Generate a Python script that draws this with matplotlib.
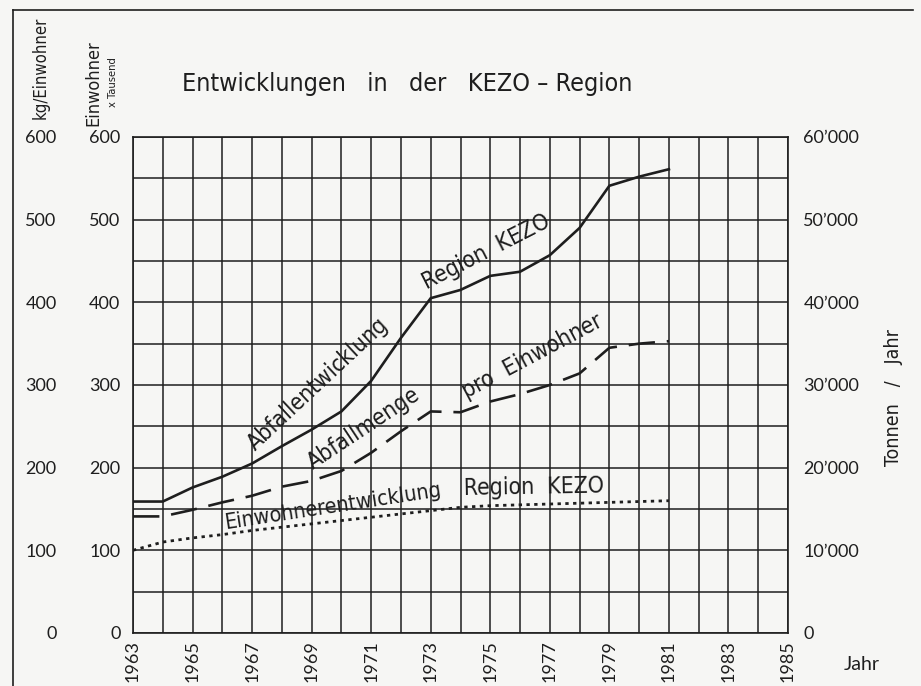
import matplotlib
matplotlib.use("Agg")
import matplotlib.pyplot as plt
from matplotlib.lines import Line2D

# Werte
years = list(range(1963, 1982))
abfall_tonnen = [15900, 15900, 17600, 18900, 20500, 22600, 24600, 26800, 30500,
                 35700, 40500, 41500, 43200, 43700, 45700, 49000, 54100, 55200, 56100]
abfall_kg_pro_einwohner = [141, 141, 149, 158, 166, 177, 184, 196, 218, 244,
                           268, 267, 280, 289, 300, 314, 345, 350, 353]
einwohner_tausend = [100, 110, 115, 119, 124, 128, 132, 136, 140, 144,
                     148, 152, 154, 155, 156, 157, 158, 159, 160]

left_ticks = [0, 100, 200, 300, 400, 500, 600]
right_ticks = [0, 10000, 20000, 30000, 40000, 50000, 60000]
right_labels = ["0", "10\u2019000", "20\u2019000", "30\u2019000", "40\u2019000", "50\u2019000", "60\u2019000"]
year_ticks = list(range(1963, 1986, 2))

bg = "#f6f6f4"
ink = "#1e1e1e"
num_font = "Lato"
txt = dict(family="DejaVu Sans", stretch="condensed")

fig = plt.figure(figsize=(9.21, 6.86), dpi=100, facecolor=bg)
ax = fig.add_axes([0.1444, 0.0773, 0.7112, 0.723])
ax.set_facecolor(bg)

# Gitter: jedes Jahr, alle 50 Einheiten
ax.set_xlim(1963, 1985)
ax.set_ylim(0, 600)
ax.set_xticks(year_ticks)
ax.set_xticks(range(1963, 1986), minor=True)
ax.set_yticks(left_ticks)
ax.set_yticks(range(0, 601, 50), minor=True)
ax.grid(which="both", color=ink, lw=1.1)
ax.set_axisbelow(True)
for s in ax.spines.values():
    s.set_color(ink)
    s.set_linewidth(1.2)
ax.tick_params(which="both", length=0)
ax.tick_params(axis="y", pad=9, labelsize=13, labelcolor=ink)
ax.tick_params(axis="x", pad=5, labelsize=13, labelcolor=ink, labelrotation=90)
for lab in ax.get_xticklabels() + ax.get_yticklabels():
    lab.set_family(num_font)

# zweite linke Skala (kg/Einwohner)
ax_kg = ax.twinx()
ax_kg.set_ylim(0, 600)
ax_kg.yaxis.set_ticks_position("left")
ax_kg.set_yticks(left_ticks)
ax_kg.tick_params(axis="y", length=0, pad=55, labelsize=13, labelcolor=ink)
for lab in ax_kg.get_yticklabels():
    lab.set_family(num_font)
for s in ax_kg.spines.values():
    s.set_visible(False)

# rechte Skala (Tonnen / Jahr)
ax_t = ax.twinx()
ax_t.set_ylim(0, 60000)
ax_t.set_yticks(right_ticks)
ax_t.set_yticklabels(right_labels)
ax_t.tick_params(axis="y", length=0, pad=11, labelsize=13, labelcolor=ink)
for lab in ax_t.get_yticklabels():
    lab.set_family(num_font)
for s in ax_t.spines.values():
    s.set_visible(False)

# Kurven
ax_t.plot(years, abfall_tonnen, color=ink, lw=1.9, solid_joinstyle="miter")
ax_kg.plot(years, abfall_kg_pro_einwohner, color=ink, lw=1.9, dashes=(10, 4.5))
ax.plot(years, einwohner_tausend, color=ink, lw=2.0, dashes=(1.2, 1.6))

# Beschriftungen an den Kurven
lab_kw = dict(color=ink, ha="left", va="baseline", rotation_mode="anchor", **txt)
ax.text(1967.1, 220, "Abfallentwicklung", rotation=43, fontsize=16.5, **lab_kw)
ax.text(1972.85, 416, "Region  KEZO", rotation=27, fontsize=16.5, **lab_kw)
ax.text(1969.05, 197, "Abfallmenge", rotation=33.5, fontsize=16.5, **lab_kw)
ax.text(1974.2, 283, "pro  Einwohner", rotation=28, fontsize=16.5, **lab_kw)
ax.text(1966.1, 126, "Einwohnerentwicklung", rotation=8.7, fontsize=15.5, **lab_kw)
ax.text(1974.1, 167, "Region  KEZO", rotation=1, fontsize=16.5, **lab_kw)

# Titel und Achsentitel
fig.text(182 / 921, 1 - 84 / 686, "Entwicklungen   in   der   KEZO \u2013 Region",
         fontsize=18, color=ink, ha="left", va="center", **txt)
fig.text(41 / 921, 1 - 68 / 686, "kg/Einwohner", fontsize=12,
         color=ink, rotation=90, ha="center", va="center", **txt)
fig.text(93 / 921, 1 - 83 / 686, "Einwohner", fontsize=13,
         color=ink, rotation=90, ha="center", va="center", **txt)
fig.text(113 / 921, 1 - 82 / 686, "x Tausend", fontsize=8,
         color=ink, rotation=90, ha="center", va="center", **txt)
fig.text(893 / 921, 1 - 398 / 686, "Tonnen   /   Jahr", fontsize=14,
         color=ink, rotation=90, ha="center", va="center", **txt)
fig.text(862 / 921, 1 - 665 / 686, "Jahr", family=num_font, fontsize=14,
         color=ink, ha="center", va="center")

# Rahmen links und oben
fig.add_artist(Line2D([13 / 921, 13 / 921], [0, 1 - 10 / 686], color=ink, lw=1.2))
fig.add_artist(Line2D([13 / 921, 913 / 921], [1 - 10 / 686, 1 - 10 / 686], color=ink, lw=1.2))

fig.savefig("out.png", dpi=100, facecolor=bg)
